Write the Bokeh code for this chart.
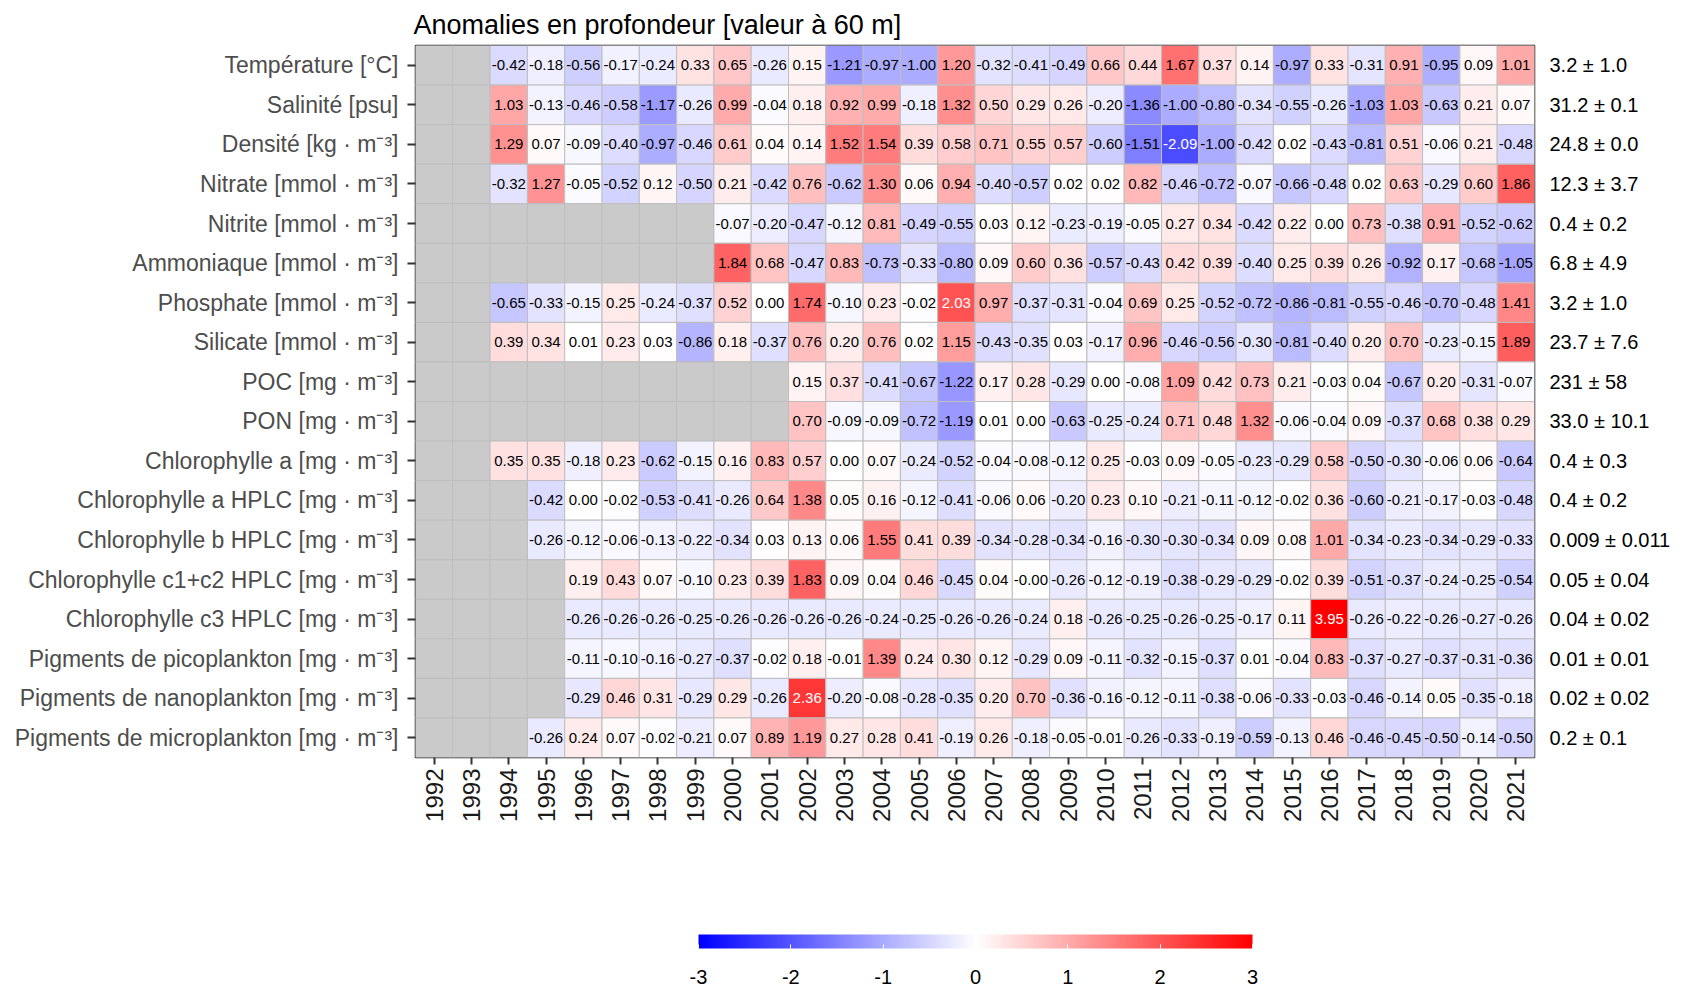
import math
import numpy as np
from bokeh.plotting import figure
from bokeh.models import (ColumnDataSource, LinearColorMapper, ColorBar, FixedTicker,
                          LinearAxis, Range1d)
from bokeh.transform import transform
from bokeh.core.properties import value
from bokeh.embed import file_html
from bokeh.resources import INLINE

years = list(range(1992, 2022))

title_text = "Anomalies en profondeur [valeur à 60 m]"

variables = [
    "Température [°C]",
    "Salinité [psu]",
    "Densité [kg · m⁻³]",
    "Nitrate [mmol · m⁻³]",
    "Nitrite [mmol · m⁻³]",
    "Ammoniaque [mmol · m⁻³]",
    "Phosphate [mmol · m⁻³]",
    "Silicate [mmol · m⁻³]",
    "POC [mg · m⁻³]",
    "PON [mg · m⁻³]",
    "Chlorophylle a [mg · m⁻³]",
    "Chlorophylle a HPLC [mg · m⁻³]",
    "Chlorophylle b HPLC [mg · m⁻³]",
    "Chlorophylle c1+c2 HPLC [mg · m⁻³]",
    "Chlorophylle c3 HPLC [mg · m⁻³]",
    "Pigments de picoplankton [mg · m⁻³]",
    "Pigments de nanoplankton [mg · m⁻³]",
    "Pigments de microplankton [mg · m⁻³]",
]

sd_labels = [
    "3.2 ± 1.0", "31.2 ± 0.1", "24.8 ± 0.0", "12.3 ± 3.7", "0.4 ± 0.2", "6.8 ± 4.9",
    "3.2 ± 1.0", "23.7 ± 7.6", "231 ± 58", "33.0 ± 10.1", "0.4 ± 0.3", "0.4 ± 0.2",
    "0.009 ± 0.011", "0.05 ± 0.04", "0.04 ± 0.02", "0.01 ± 0.01", "0.02 ± 0.02", "0.2 ± 0.1",
]

colorbar_ticks = [-3, -2, -1, 0, 1, 2, 3]

NA = None
temperature = [NA, NA, -0.42, -0.18, -0.56, -0.17, -0.24, 0.33, 0.65, -0.26, 0.15, -1.21, -0.97, -1.00, 1.20,
               -0.32, -0.41, -0.49, 0.66, 0.44, 1.67, 0.37, 0.14, -0.97, 0.33, -0.31, 0.91, -0.95, 0.09, 1.01]
salinity = [NA, NA, 1.03, -0.13, -0.46, -0.58, -1.17, -0.26, 0.99, -0.04, 0.18, 0.92, 0.99, -0.18, 1.32,
            0.50, 0.29, 0.26, -0.20, -1.36, -1.00, -0.80, -0.34, -0.55, -0.26, -1.03, 1.03, -0.63, 0.21, 0.07]
density = [NA, NA, 1.29, 0.07, -0.09, -0.40, -0.97, -0.46, 0.61, 0.04, 0.14, 1.52, 1.54, 0.39, 0.58,
           0.71, 0.55, 0.57, -0.60, -1.51, -2.09, -1.00, -0.42, 0.02, -0.43, -0.81, 0.51, -0.06, 0.21, -0.48]
nitrate = [NA, NA, -0.32, 1.27, -0.05, -0.52, 0.12, -0.50, 0.21, -0.42, 0.76, -0.62, 1.30, 0.06, 0.94,
           -0.40, -0.57, 0.02, 0.02, 0.82, -0.46, -0.72, -0.07, -0.66, -0.48, 0.02, 0.63, -0.29, 0.60, 1.86]
nitrite = [NA, NA, NA, NA, NA, NA, NA, NA, -0.07, -0.20, -0.47, -0.12, 0.81, -0.49, -0.55,
           0.03, 0.12, -0.23, -0.19, -0.05, 0.27, 0.34, -0.42, 0.22, 0.00, 0.73, -0.38, 0.91, -0.52, -0.62]
ammonia = [NA, NA, NA, NA, NA, NA, NA, NA, 1.84, 0.68, -0.47, 0.83, -0.73, -0.33, -0.80,
           0.09, 0.60, 0.36, -0.57, -0.43, 0.42, 0.39, -0.40, 0.25, 0.39, 0.26, -0.92, 0.17, -0.68, -1.05]
phosphate = [NA, NA, -0.65, -0.33, -0.15, 0.25, -0.24, -0.37, 0.52, 0.00, 1.74, -0.10, 0.23, -0.02, 2.03,
             0.97, -0.37, -0.31, -0.04, 0.69, 0.25, -0.52, -0.72, -0.86, -0.81, -0.55, -0.46, -0.70, -0.48, 1.41]
silicate = [NA, NA, 0.39, 0.34, 0.01, 0.23, 0.03, -0.86, 0.18, -0.37, 0.76, 0.20, 0.76, 0.02, 1.15,
            -0.43, -0.35, 0.03, -0.17, 0.96, -0.46, -0.56, -0.30, -0.81, -0.40, 0.20, 0.70, -0.23, -0.15, 1.89]
poc = [NA, NA, NA, NA, NA, NA, NA, NA, NA, NA, 0.15, 0.37, -0.41, -0.67, -1.22,
       0.17, 0.28, -0.29, 0.00, -0.08, 1.09, 0.42, 0.73, 0.21, -0.03, 0.04, -0.67, 0.20, -0.31, -0.07]
pon = [NA, NA, NA, NA, NA, NA, NA, NA, NA, NA, 0.70, -0.09, -0.09, -0.72, -1.19,
       0.01, 0.00, -0.63, -0.25, -0.24, 0.71, 0.48, 1.32, -0.06, -0.04, 0.09, -0.37, 0.68, 0.38, 0.29]
chla = [NA, NA, 0.35, 0.35, -0.18, 0.23, -0.62, -0.15, 0.16, 0.83, 0.57, 0.00, 0.07, -0.24, -0.52,
        -0.04, -0.08, -0.12, 0.25, -0.03, 0.09, -0.05, -0.23, -0.29, 0.58, -0.50, -0.30, -0.06, 0.06, -0.64]
chla_hplc = [NA, NA, NA, -0.42, 0.00, -0.02, -0.53, -0.41, -0.26, 0.64, 1.38, 0.05, 0.16, -0.12, -0.41,
             -0.06, 0.06, -0.20, 0.23, 0.10, -0.21, -0.11, -0.12, -0.02, 0.36, -0.60, -0.21, -0.17, -0.03, -0.48]
chlb_hplc = [NA, NA, NA, -0.26, -0.12, -0.06, -0.13, -0.22, -0.34, 0.03, 0.13, 0.06, 1.55, 0.41, 0.39,
             -0.34, -0.28, -0.34, -0.16, -0.30, -0.30, -0.34, 0.09, 0.08, 1.01, -0.34, -0.23, -0.34, -0.29, -0.33]
chlc12_hplc = [NA, NA, NA, NA, 0.19, 0.43, 0.07, -0.10, 0.23, 0.39, 1.83, 0.09, 0.04, 0.46, -0.45,
               0.04, -0.004, -0.26, -0.12, -0.19, -0.38, -0.29, -0.29, -0.02, 0.39, -0.51, -0.37, -0.24, -0.25, -0.54]
chlc3_hplc = [NA, NA, NA, NA, -0.26, -0.26, -0.26, -0.25, -0.26, -0.26, -0.26, -0.26, -0.24, -0.25, -0.26,
              -0.26, -0.24, 0.18, -0.26, -0.25, -0.26, -0.25, -0.17, 0.11, 3.95, -0.26, -0.22, -0.26, -0.27, -0.26]
pico = [NA, NA, NA, NA, -0.11, -0.10, -0.16, -0.27, -0.37, -0.02, 0.18, -0.01, 1.39, 0.24, 0.30,
        0.12, -0.29, 0.09, -0.11, -0.32, -0.15, -0.37, 0.01, -0.04, 0.83, -0.37, -0.27, -0.37, -0.31, -0.36]
nano = [NA, NA, NA, NA, -0.29, 0.46, 0.31, -0.29, 0.29, -0.26, 2.36, -0.20, -0.08, -0.28, -0.35,
        0.20, 0.70, -0.36, -0.16, -0.12, -0.11, -0.38, -0.06, -0.33, -0.03, -0.46, -0.14, 0.05, -0.35, -0.18]
micro = [NA, NA, NA, -0.26, 0.24, 0.07, -0.02, -0.21, 0.07, 0.89, 1.19, 0.27, 0.28, 0.41, -0.19,
         0.26, -0.18, -0.05, -0.01, -0.26, -0.33, -0.19, -0.59, -0.13, 0.46, -0.46, -0.45, -0.50, -0.14, -0.50]

rows = [temperature, salinity, density, nitrate, nitrite, ammonia, phosphate, silicate, poc, pon,
        chla, chla_hplc, chlb_hplc, chlc12_hplc, chlc3_hplc, pico, nano, micro]

n = len(variables)
xs, ys, vs, labels, tcolors = [], [], [], [], []
for i, row in enumerate(rows):
    for yr, v in zip(years, row):
        xs.append(yr)
        ys.append(n - 1 - i)
        if v is None:
            vs.append(np.nan)
            labels.append("")
            tcolors.append("black")
        else:
            vs.append(v)
            labels.append(f"{v:.2f}")
            tcolors.append("white" if abs(v) > 2 else "black")

src = ColumnDataSource(dict(x=xs, y=ys, v=np.array(vs, dtype=float), label=labels, tcolor=tcolors))

# blue - white - red palette (linear RGB)
palette = []
N = 255
for k in range(N):
    t = -1 + 2 * k / (N - 1)
    if t < 0:
        a = -t
        r, g, b = 255 * (1 - a), 255 * (1 - a), 255
    else:
        a = t
        r, g, b = 255, 255 * (1 - a), 255 * (1 - a)
    palette.append("#%02x%02x%02x" % (int(round(r)), int(round(g)), int(round(b))))

mapper = LinearColorMapper(palette=palette, low=-3, high=3, nan_color="#CACACA",
                           low_color="#0000ff", high_color="#ff0000")

FONT = "Liberation Sans"
FRAME_W, FRAME_H = 1119, 712

p = figure(frame_width=FRAME_W, frame_height=FRAME_H,
           min_border_left=415, min_border_right=140, min_border_top=45, min_border_bottom=230,
           x_range=Range1d(1991.5, 2021.5), y_range=Range1d(-0.5, n - 0.5),
           output_backend="svg", toolbar_location=None, title=title_text)

p.title.text_font = FONT
p.title.text_font_size = "27px"
p.title.text_font_style = "normal"
p.title.text_color = "black"
p.title.align = "left"
p.title.offset = -2
p.title.standoff = 12

p.rect(x="x", y="y", width=1, height=1, source=src,
       fill_color=transform("v", mapper), line_color="#BEBEBE", line_width=1)
p.text(x="x", y="y", text="label", source=src, text_align="center", text_baseline="middle",
       text_font=value(FONT), text_font_size="15px", text_color="tcolor")

p.xgrid.visible = False
p.ygrid.visible = False
p.outline_line_color = "#1a1a1a"
p.outline_line_width = 1.5
p.background_fill_color = "white"

# x axis
p.xaxis.ticker = FixedTicker(ticks=years)
p.xaxis.major_label_orientation = math.pi / 2
p.xaxis.major_label_text_font = FONT
p.xaxis.major_label_text_font_size = "24px"
p.xaxis.major_label_text_color = "#1a1a1a"
p.xaxis.major_tick_out = 7
p.xaxis.major_tick_in = 0
p.xaxis.major_tick_line_width = 2
p.xaxis.major_tick_line_color = "#333333"
p.xaxis.minor_tick_line_color = None
p.xaxis.axis_line_color = None
p.xaxis.major_label_standoff = 4

# left y axis
p.yaxis.ticker = FixedTicker(ticks=list(range(n)))
p.yaxis.major_label_overrides = {n - 1 - i: name for i, name in enumerate(variables)}
p.yaxis.major_label_text_font = FONT
p.yaxis.major_label_text_font_size = "23px"
p.yaxis.major_label_text_color = "#4D4D4D"
p.yaxis.major_tick_out = 8
p.yaxis.major_tick_in = 0
p.yaxis.major_tick_line_width = 2
p.yaxis.major_tick_line_color = "#333333"
p.yaxis.minor_tick_line_color = None
p.yaxis.axis_line_color = None
p.yaxis.major_label_standoff = 9

# right axis with mean ± sd
raxis = LinearAxis(ticker=FixedTicker(ticks=list(range(n))),
                   major_label_overrides={n - 1 - i: s for i, s in enumerate(sd_labels)},
                   major_tick_line_color=None, minor_tick_line_color=None, axis_line_color=None,
                   major_label_text_font=FONT, major_label_text_font_size="20px",
                   major_label_text_color="black", major_label_standoff=9)
p.add_layout(raxis, "right")

# colour bar
cb = ColorBar(color_mapper=mapper, orientation="horizontal", width=554, height=14,
              location=(283, -229), padding=0,
              ticker=FixedTicker(ticks=colorbar_ticks),
              major_label_overrides={t: str(t) for t in colorbar_ticks},
              major_tick_line_color="white", major_tick_in=4, major_tick_out=0,
              minor_tick_line_color=None,
              bar_line_color=None, border_line_color=None, background_fill_color=None,
              label_standoff=21, major_label_text_font=FONT, major_label_text_font_size="20px",
              major_label_text_color="black")
p.add_layout(cb, "center")

open("out.html", "w").write(file_html(p, INLINE))
